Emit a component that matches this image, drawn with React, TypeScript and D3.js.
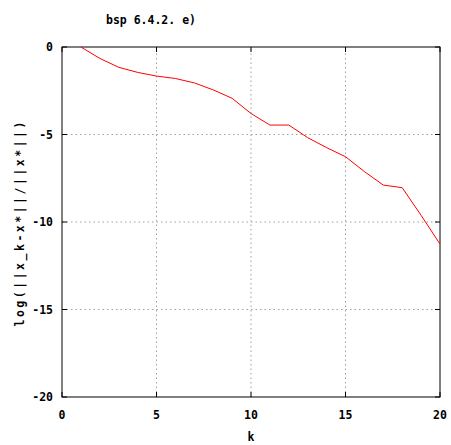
import React from "react";
import * as d3 from "d3";

const ks = [1, 2, 3, 4, 5, 6, 7, 8, 9, 10, 11, 12, 13, 14, 15, 16, 17, 18, 19, 20];
const errs = [0, -0.65, -1.16, -1.45, -1.66, -1.8, -2.05, -2.45, -2.93, -3.8, -4.46, -4.46, -5.18, -5.75, -6.27, -7.12, -7.89, -8.04, -9.62, -11.26];
const xTicks = [0, 5, 10, 15, 20];
const yTicks = [0, -5, -10, -15, -20];
const title = "bsp 6.4.2. e)";
const xLabel = "k";
const yLabel = "log(||x_k-x*||/||x*||)";

export default function App() {
  const W = 451, H = 445;
  const m = { left: 62, right: 11, top: 47, bottom: 48 };
  const x = d3.scaleLinear().domain([0, 20]).range([m.left, W - m.right]);
  const y = d3.scaleLinear().domain([-20, 0]).range([H - m.bottom, m.top]);
  const line = d3.line<number>().x((_, i) => x(ks[i])).y((d) => y(d));
  const font = "'DejaVu Sans Mono', monospace";
  const x0 = x(0), x1 = x(20), y0 = y(-20), y1 = y(0);
  return (
    <svg width={W} height={H} style={{ position: "absolute", left: 0, top: 0, background: "#fff" }}>
      <text x={151} y={24} fontFamily={font} fontWeight="bold" fontSize={11.5} textAnchor="middle">{title}</text>
      {xTicks.filter((t) => t > 0 && t < 20).map((t) => (
        <line key={"gx" + t} x1={x(t)} x2={x(t)} y1={y0} y2={y1} stroke="#a0a0a0" strokeDasharray="1.5,3" />
      ))}
      {yTicks.filter((t) => t < 0 && t > -20).map((t) => (
        <line key={"gy" + t} x1={x0} x2={x1} y1={y(t)} y2={y(t)} stroke="#a0a0a0" strokeDasharray="1.5,3" />
      ))}
      {xTicks.map((t) => (
        <g key={"tx" + t}>
          <line x1={x(t)} x2={x(t)} y1={y0} y2={y0 - 5} stroke="#000" />
          <line x1={x(t)} x2={x(t)} y1={y1} y2={y1 + 5} stroke="#000" />
          <text x={x(t)} y={y0 + 22} fontFamily={font} fontWeight="bold" fontSize={11.5} textAnchor="middle">{t}</text>
        </g>
      ))}
      {yTicks.map((t) => (
        <g key={"ty" + t}>
          <line x1={x0} x2={x0 + 5} y1={y(t)} y2={y(t)} stroke="#000" />
          <line x1={x1} x2={x1 - 5} y1={y(t)} y2={y(t)} stroke="#000" />
          <text x={x0 - 9} y={y(t) + 4} fontFamily={font} fontWeight="bold" fontSize={11.5} textAnchor="end">{t}</text>
        </g>
      ))}
      <rect x={x0} y={y1} width={x1 - x0} height={y0 - y1} fill="none" stroke="#000" />
      <path d={line(errs) || ""} fill="none" stroke="#ff0000" strokeWidth={1} />
      <text x={x(10)} y={441} fontFamily={font} fontWeight="bold" fontSize={11.5} textAnchor="middle">{xLabel}</text>
      <text transform={`translate(24,${224}) rotate(-90)`} fontFamily={font} fontWeight="bold" fontSize={11.5} textAnchor="middle" textLength={205} lengthAdjust="spacing">{yLabel}</text>
    </svg>
  );
}
